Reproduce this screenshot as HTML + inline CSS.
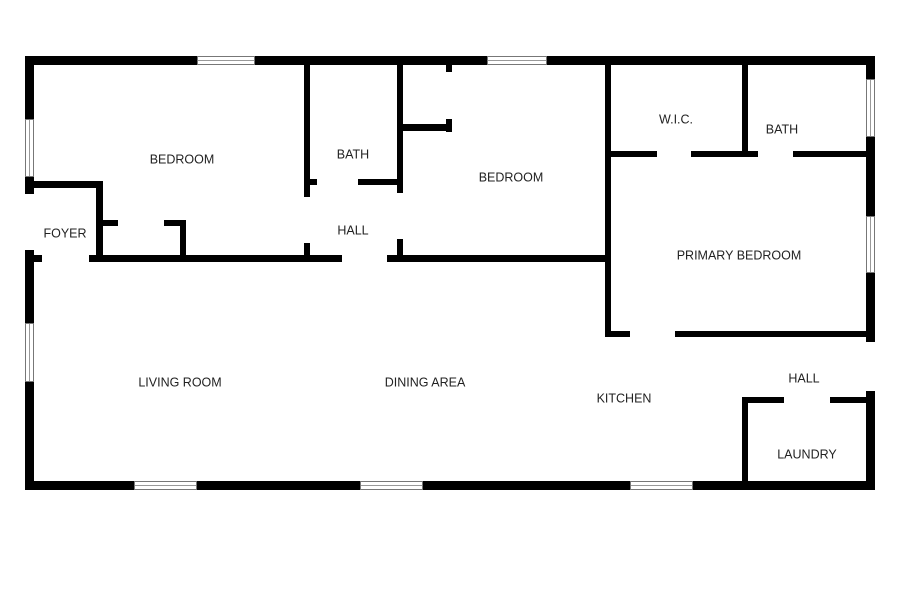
<!DOCTYPE html>
<html><head><style>
html,body{margin:0;padding:0;background:#fff;}
svg{display:block;}
text{font-family:"Liberation Sans",sans-serif;font-size:12.5px;fill:#222;text-anchor:middle;dominant-baseline:middle;}
</style></head><body>
<svg width="900" height="599" viewBox="0 0 900 599" xmlns="http://www.w3.org/2000/svg">
<g fill="#000">
<rect x="25" y="56" width="850" height="9"/>
<rect x="25" y="481" width="850" height="9"/>
<rect x="25" y="56" width="9" height="138"/>
<rect x="25" y="250" width="9" height="240"/>
<rect x="866" y="56" width="9" height="286"/>
<rect x="866" y="391" width="9" height="99"/>
<rect x="34" y="181" width="68" height="7"/>
<rect x="96" y="181" width="7" height="79"/>
<rect x="102" y="220" width="16" height="6"/>
<rect x="164" y="220" width="22" height="6"/>
<rect x="180" y="220" width="6" height="40"/>
<rect x="34" y="255" width="8" height="7"/>
<rect x="89" y="255" width="253" height="7"/>
<rect x="387" y="255" width="224" height="7"/>
<rect x="304" y="65" width="6" height="132"/>
<rect x="304" y="243" width="6" height="15"/>
<rect x="304" y="179" width="13" height="6"/>
<rect x="358" y="179" width="45" height="6"/>
<rect x="397" y="65" width="6" height="128"/>
<rect x="397" y="239" width="6" height="20"/>
<rect x="446" y="65" width="6" height="7"/>
<rect x="403" y="124" width="49" height="7"/>
<rect x="446" y="119" width="6" height="13"/>
<rect x="605" y="65" width="6" height="272"/>
<rect x="742" y="65" width="6" height="90"/>
<rect x="611" y="151" width="46" height="6"/>
<rect x="691" y="151" width="67" height="6"/>
<rect x="793" y="151" width="73" height="6"/>
<rect x="605" y="331" width="25" height="6"/>
<rect x="675" y="331" width="191" height="6"/>
<rect x="742" y="397" width="42" height="6"/>
<rect x="830" y="397" width="36" height="6"/>
<rect x="742" y="397" width="6" height="89"/>
</g>
<g fill="#fff" stroke="#777" stroke-width="1">
<rect x="197.5" y="56.5" width="57" height="8"/>
<rect x="487.5" y="56.5" width="59" height="8"/>
<rect x="25.5" y="119.5" width="8" height="57"/>
<rect x="25.5" y="323.5" width="8" height="58"/>
<rect x="866.5" y="79.5" width="8" height="57"/>
<rect x="866.5" y="216.5" width="8" height="56"/>
<rect x="134.5" y="481.5" width="62" height="8"/>
<rect x="360.5" y="481.5" width="62" height="8"/>
<rect x="630.5" y="481.5" width="62" height="8"/>
</g>
<g stroke="#999" stroke-width="1">
<line x1="198" y1="60.5" x2="254" y2="60.5"/>
<line x1="488" y1="60.5" x2="546" y2="60.5"/>
<line x1="29.5" y1="120" x2="29.5" y2="176"/>
<line x1="29.5" y1="324" x2="29.5" y2="381"/>
<line x1="870.5" y1="80" x2="870.5" y2="136"/>
<line x1="870.5" y1="217" x2="870.5" y2="272"/>
<line x1="135" y1="485.5" x2="196" y2="485.5"/>
<line x1="361" y1="485.5" x2="422" y2="485.5"/>
<line x1="631" y1="485.5" x2="692" y2="485.5"/>
</g>
<text x="182" y="160">BEDROOM</text>
<text x="353" y="155">BATH</text>
<text x="65" y="234">FOYER</text>
<text x="353" y="231">HALL</text>
<text x="511" y="178">BEDROOM</text>
<text x="676" y="120">W.I.C.</text>
<text x="782" y="130">BATH</text>
<text x="739" y="256">PRIMARY BEDROOM</text>
<text x="180" y="383">LIVING ROOM</text>
<text x="425" y="383">DINING AREA</text>
<text x="624" y="399">KITCHEN</text>
<text x="804" y="379">HALL</text>
<text x="807" y="455">LAUNDRY</text>
</svg>
</body></html>
